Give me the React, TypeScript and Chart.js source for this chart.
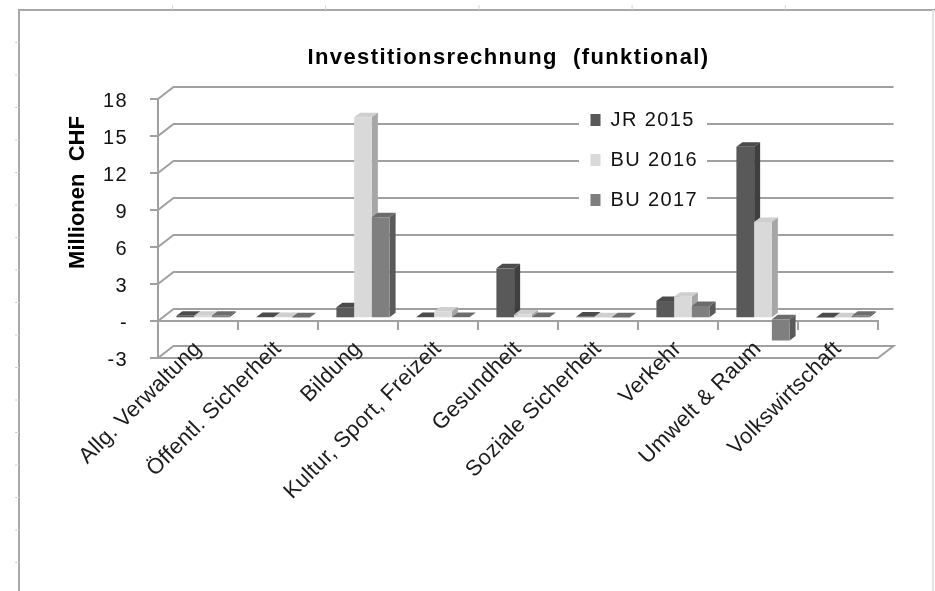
import React, { useEffect, useRef } from "react";
import { Chart, registerables } from "chart.js";

Chart.register(...registerables);

const categories = [
  "Allg. Verwaltung",
  "Öffentl. Sicherheit",
  "Bildung",
  "Kultur, Sport, Freizeit",
  "Gesundheit",
  "Soziale Sicherheit",
  "Verkehr",
  "Umwelt & Raum",
  "Volkswirtschaft",
];
const jr2015 = [0.2, 0.1, 0.9, 0.1, 4.05, 0.15, 1.4, 13.9, 0.05];
const bu2016 = [0.2, 0.1, 16.3, 0.55, 0.3, 0.05, 1.75, 7.8, 0.05];
const bu2017 = [0.2, 0.05, 8.2, 0.1, 0.1, 0.05, 1.0, -1.8, 0.2];

const frontColors = ["#595959", "#d9d9d9", "#7f7f7f"];
const topColors = ["#4b4b4b", "#cfcfcf", "#6c6c6c"];
const sideColors = ["#3f3f3f", "#a6a6a6", "#5a5a5a"];

const FONT = "'Liberation Sans', Arial, sans-serif";
const LINE = "#a0a0a0";
const WALL_DX = 15.5;
const WALL_DY = -12;
const BAR_DX = 5;
const BAR_DY = -2.7;
const DEPTH_DX = 6;
const DEPTH_DY = -4.5;

const sheetFrame = {
  id: "sheetFrame",
  beforeDraw(chart: any) {
    const ctx = chart.ctx;
    ctx.save();
    ctx.fillStyle = "#fff";
    ctx.fillRect(0, 0, chart.width, chart.height);
    ctx.strokeStyle = "#a8a8a8";
    ctx.lineWidth = 2;
    ctx.beginPath();
    ctx.moveTo(19, 591);
    ctx.lineTo(19, 10);
    ctx.lineTo(935, 10);
    ctx.stroke();
    ctx.strokeStyle = "#e4e4e4";
    ctx.beginPath();
    ctx.moveTo(933, 10);
    ctx.lineTo(933, 591);
    ctx.stroke();
    ctx.lineWidth = 1;
    ctx.strokeStyle = "#d4d4d4";
    ctx.beginPath();
    for (let x = 172.5; x < 935; x += 153.2) {
      ctx.moveTo(x, 5);
      ctx.lineTo(x, 10);
    }
    for (let y = 42.5; y < 591; y += 32.5) {
      ctx.moveTo(15, y);
      ctx.lineTo(19, y);
    }
    ctx.stroke();
    ctx.restore();
  },
};

const walls = {
  id: "walls",
  beforeDraw(chart: any) {
    const { ctx, chartArea } = chart;
    const y = chart.scales.y;
    ctx.save();
    ctx.strokeStyle = LINE;
    ctx.lineWidth = 2;
    y.ticks.forEach((t: any) => {
      const py = y.getPixelForValue(t.value);
      ctx.beginPath();
      ctx.moveTo(chartArea.left, py);
      ctx.lineTo(chartArea.left + WALL_DX, py + WALL_DY);
      ctx.lineTo(chartArea.right + WALL_DX, py + WALL_DY);
      if (t.value === y.min) {
        ctx.lineTo(chartArea.right, py);
        ctx.lineTo(chartArea.left, py);
      }
      ctx.stroke();
    });
    ctx.fillStyle = "#fff";
    ctx.fillRect(579, 100, 128, 114);
    ctx.restore();
  },
};

const bars3d = {
  id: "bars3d",
  beforeDatasetsDraw(chart: any) {
    const ctx = chart.ctx;
    for (let d = 0; d < chart.data.datasets.length; d++) {
      const meta = chart.getDatasetMeta(d);
      ctx.save();
      ctx.translate(BAR_DX, BAR_DY);
      meta.data.forEach((el: any) => {
        const { x, y, base, width } = el.getProps(["x", "y", "base", "width"], true);
        const l = x - width / 2;
        const r = x + width / 2;
        const top = Math.min(y, base);
        const bottom = Math.max(y, base);
        ctx.fillStyle = topColors[d];
        ctx.beginPath();
        ctx.moveTo(l, top);
        ctx.lineTo(l + DEPTH_DX, top + DEPTH_DY);
        ctx.lineTo(r + DEPTH_DX, top + DEPTH_DY);
        ctx.lineTo(r, top);
        ctx.closePath();
        ctx.fill();
        ctx.fillStyle = sideColors[d];
        ctx.beginPath();
        ctx.moveTo(r, top);
        ctx.lineTo(r + DEPTH_DX, top + DEPTH_DY);
        ctx.lineTo(r + DEPTH_DX, bottom + DEPTH_DY);
        ctx.lineTo(r, bottom);
        ctx.closePath();
        ctx.fill();
      });
      meta.controller.draw();
      ctx.restore();
    }
    return false;
  },
};

const placement = {
  id: "placement",
  afterLayout(chart: any) {
    const t = chart.titleBlock;
    t.left += 69.5;
    t.right += 69.5;
    const l = chart.legend;
    l.left = 570.5;
    l.right = 720;
    l.top = 90;
    l.bottom = 240;
    l.width = 150;
    l.height = 150;
  },
  beforeDraw(chart: any) {
    chart.ctx.letterSpacing = "1.4px";
  },
};

const axisTitle = {
  id: "axisTitle",
  afterDraw(chart: any) {
    const ctx = chart.ctx;
    ctx.save();
    ctx.letterSpacing = "0px";
    ctx.translate(77.5, 192.5);
    ctx.rotate(-Math.PI / 2);
    ctx.font = `bold 22px ${FONT}`;
    ctx.fillStyle = "#000";
    ctx.textAlign = "center";
    ctx.textBaseline = "middle";
    ctx.fillText("Millionen  CHF", 0, 0);
    ctx.restore();
  },
};

// Wraps a scale's label drawing so its labels can carry their own spacing and nudge.
function tuneLabels(scale: any, spacing: string, dy: number) {
  if (scale.__tuned) return;
  scale.__tuned = true;
  const original = scale.drawLabels;
  scale.drawLabels = function (area: any) {
    const ctx = scale.ctx;
    ctx.save();
    ctx.letterSpacing = spacing;
    ctx.translate(0, dy);
    original.call(scale, area);
    ctx.restore();
  };
}

export default function App() {
  const ref = useRef<HTMLCanvasElement>(null);
  useEffect(() => {
    const chart = new Chart(ref.current!, {
      type: "bar",
      data: {
        labels: categories,
        datasets: [
          { label: "JR 2015", data: jr2015, backgroundColor: frontColors[0], borderWidth: 0 },
          { label: "BU 2016", data: bu2016, backgroundColor: frontColors[1], borderWidth: 0 },
          { label: "BU 2017", data: bu2017, backgroundColor: frontColors[2], borderWidth: 0 },
        ],
      },
      plugins: [sheetFrame, placement, walls, bars3d, axisTitle],
      options: {
        responsive: false,
        animation: false,
        layout: { autoPadding: false, padding: { left: 0, top: 0, right: 57, bottom: 233 } },
        datasets: { bar: { categoryPercentage: 0.665, barPercentage: 1 } },
        plugins: {
          tooltip: { enabled: false },
          title: {
            display: true,
            text: "Investitionsrechnung  (funktional)",
            color: "#000",
            font: { family: FONT, size: 22, weight: "bold", lineHeight: 1.2 },
            padding: { top: 45, bottom: 27.6 },
          },
          legend: {
            position: "chartArea",
            align: "start",
            labels: {
              color: "#111",
              font: { family: FONT, size: 20, lineHeight: 1.2 },
              boxWidth: 10,
              boxHeight: 12,
              padding: 20,
            },
          },
        },
        scales: {
          x: {
            position: { y: 0 },
            offset: true,
            afterUpdate: (s: any) => tuneLabels(s, "0.3px", 0),
            grid: {
              offset: true,
              drawOnChartArea: false,
              drawTicks: true,
              tickLength: 8,
              color: LINE,
              lineWidth: 2,
            },
            border: { color: LINE, width: 2 },
            ticks: {
              autoSkip: false,
              maxRotation: 45,
              minRotation: 45,
              padding: 7,
              color: "#1c1c1c",
              font: { family: FONT, size: 22 },
            },
          },
          y: {
            min: -3,
            max: 18,
            afterFit(s: any) {
              s.width = 158;
            },
            afterUpdate: (s: any) => tuneLabels(s, "1.4px", 2),
            grid: {
              drawOnChartArea: false,
              drawTicks: true,
              tickLength: 8,
              color: LINE,
              lineWidth: 2,
            },
            border: { color: LINE, width: 2 },
            ticks: {
              stepSize: 3,
              padding: 22,
              color: "#111",
              font: { family: FONT, size: 20 },
              callback: (v: any) => (v === 0 ? "-" : String(v)),
            },
          },
        },
      },
    } as any);
    return () => chart.destroy();
  }, []);
  return (
    <div style={{ position: "fixed", left: 0, top: 0, width: 935, height: 591, overflow: "hidden", background: "#fff" }}>
      <canvas ref={ref} width={935} height={591} style={{ display: "block", filter: "blur(0.5px)" }} />
    </div>
  );
}
